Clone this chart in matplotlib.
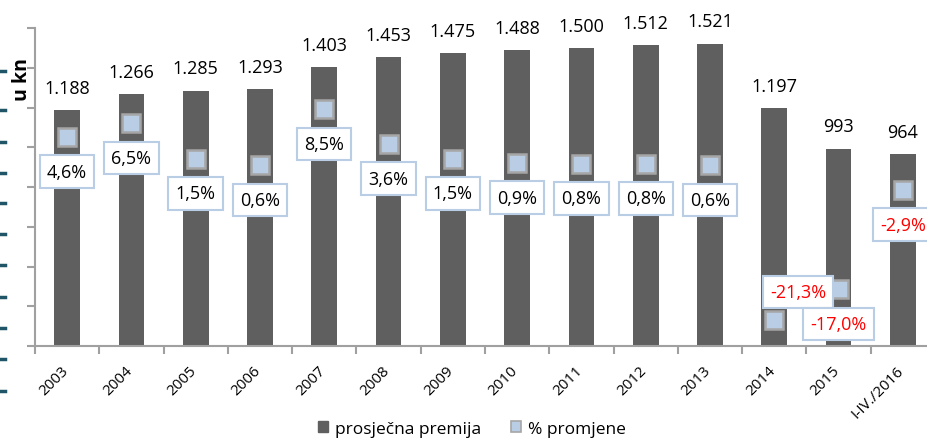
import matplotlib.pyplot as plt
import matplotlib.transforms as mtransforms
from matplotlib.lines import Line2D
from matplotlib.patches import Patch

plt.rcParams['font.family'] = ['Open Sans', 'DejaVu Sans']

godine = ['2003', '2004', '2005', '2006', '2007', '2008', '2009', '2010',
          '2011', '2012', '2013', '2014', '2015', 'I-IV./2016']
premija = [1188, 1266, 1285, 1293, 1403, 1453, 1475, 1488, 1500, 1512, 1521,
           1197, 993, 964]
promjena = [4.6, 6.5, 1.5, 0.6, 8.5, 3.6, 1.5, 0.9, 0.8, 0.8, 0.6,
            -21.3, -17.0, -2.9]

bar_col = '#5f5f5f'
mk_face = '#b9cde5'
mk_edge = '#a6a6a6'
axis_col = '#a0a0a0'

fig = plt.figure(figsize=(9.28, 4.39), dpi=100)
ax = fig.add_axes([35/928, (439-347)/439, 900/928, (347-29)/439])

x = list(range(len(godine)))
ax.bar(x, premija, width=0.4, color=bar_col, zorder=2)
ax.set_xlim(-0.5, len(godine) - 0.5)
ax.set_ylim(0, 1600)
ax.set_yticks(range(0, 1601, 200))
ax.set_yticklabels([])
ax.set_xticks(x)
ax.set_xticklabels(godine, rotation=45, ha='right', fontsize=11)
ax.set_xticks([i - 0.5 for i in x] + [len(x) - 0.5], minor=True)
ax.tick_params(axis='x', which='major', length=0, pad=12)
ax.tick_params(axis='x', which='minor', length=6, color=axis_col, width=1.5)
ax.tick_params(axis='y', length=6, color=axis_col, width=1.5)
pomak = mtransforms.ScaledTranslation(4/100, 0, fig.dpi_scale_trans)
for lbl in ax.get_xticklabels():
    lbl.set_transform(lbl.get_transform() + pomak)
for s in ['top', 'right']:
    ax.spines[s].set_visible(False)
ax.spines['left'].set_color(axis_col)
ax.spines['bottom'].set_color(axis_col)
ax.spines['left'].set_linewidth(1.5)
ax.spines['bottom'].set_linewidth(1.5)

for xi, v in zip(x, premija):
    txt = '{:,}'.format(v).replace(',', '.')
    ax.annotate(txt, (xi, v), xytext=(0, 16), textcoords='offset points',
                ha='center', va='center', fontsize=13)

ax2 = ax.twinx()
ax2.set_ylim(-25, 20)
ax2.axis('off')
ax2.plot(x, promjena, linestyle='none', marker='s', markersize=13,
         markerfacecolor=mk_face, markeredgecolor=mk_edge,
         markeredgewidth=1.8, zorder=3)

for xi, p in zip(x, promjena):
    txt = ('%.1f%%' % p).replace('.', ',')
    col = 'red' if p < 0 else 'black'
    off = (17, 20) if godine[xi] == '2014' else (0, -25)
    ax2.annotate(txt, (xi, p), xytext=off, textcoords='offset points',
                 ha='center', va='center', fontsize=13, color=col, zorder=4,
                 bbox=dict(boxstyle='square,pad=0.4', facecolor='white',
                           edgecolor=mk_face, linewidth=1.5))

fig.text(22/928, 1 - 80/439, 'u kn', rotation=90, fontweight='bold',
         fontsize=14, ha='center', va='center')

# ostaci rezane osi lijevo
for yp in [72, 111, 143, 174, 204, 235, 266, 298, 329, 360, 392]:
    fig.add_artist(Line2D([0, 5/928], [1 - yp/439, 1 - yp/439],
                          color='#1f5566', linewidth=2.5))

handles = [Patch(facecolor=bar_col, edgecolor=bar_col),
           Patch(facecolor=mk_face, edgecolor=mk_edge, linewidth=1.2)]
fig.legend(handles, ['prosječna premija', '% promjene'], loc='center',
           bbox_to_anchor=(472/928, 9/439), ncol=2, frameon=False,
           fontsize=12.5, handlelength=0.6, handleheight=0.6,
           columnspacing=1.7, handletextpad=0.4)

fig.savefig('out.png', dpi=100)
